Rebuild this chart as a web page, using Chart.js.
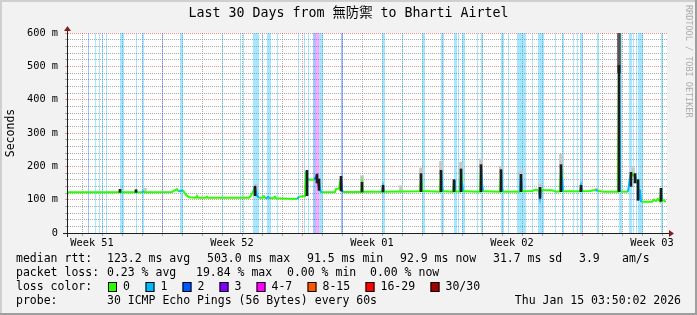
<!DOCTYPE html>
<html>
<head>
<meta charset="utf-8">
<script src="https://cdn.jsdelivr.net/npm/chart.js@4"></script>
<style>
  html, body { margin: 0; padding: 0; background: #f2f2f2; }
  canvas { display: block; }
</style>
</head>
<body>
<canvas id="graph" width="697" height="315"></canvas>
<script>
// x values are days since the start of the 30 day window, y values are ms
const titleText = "Last 30 Days from 無防禦 to Bharti Airtel";
const yAxisTitle = "Seconds";
const watermark = "RRDTOOL / TOBI OETIKER";

const weekLabels = ["Week 51", "Week 52", "Week 01", "Week 02", "Week 03"];
const weekLabelDays = [1.25, 8.25, 15.25, 22.25, 29.25];
const weekStartDays = [4.75, 11.75, 18.75, 25.75];

const medianDays = [0.00, 0.05, 2.60, 2.65, 2.70, 3.40, 3.45, 3.50, 3.75, 3.80, 3.85, 5.25, 5.35, 5.50, 5.60, 5.70, 5.80, 5.90, 6.00, 6.10,
  6.45, 6.50, 6.55, 6.95, 7.00, 7.05, 9.10, 9.20, 9.35, 9.40, 9.45, 9.50, 9.60, 9.80, 9.85, 9.95, 10.05, 10.15, 10.30, 10.40,
  10.45, 11.50, 11.60, 11.90, 11.95, 12.00, 12.10, 12.40, 12.45, 12.50, 12.55, 12.60, 12.65, 12.70, 12.75, 13.40, 13.45, 13.60, 13.70, 13.75,
  13.80, 14.70, 14.75, 14.80, 15.75, 15.80, 15.85, 17.65, 17.70, 17.75, 18.65, 18.70, 18.75, 18.80, 19.30, 19.35, 19.40, 19.65, 19.70, 19.75,
  19.80, 20.65, 20.70, 20.75, 20.80, 21.65, 21.70, 21.75, 21.80, 22.65, 22.70, 22.75, 23.25, 23.45, 23.60, 23.65, 23.70, 23.90, 24.25, 24.45,
  24.65, 24.70, 24.75, 24.80, 25.65, 25.70, 25.75, 26.15, 26.45, 26.55, 26.85, 27.55, 27.60, 27.65, 27.70, 28.05, 28.15, 28.20, 28.30, 28.40,
  28.50, 28.55, 28.60, 28.65, 28.70, 28.75, 29.25, 29.35, 29.45, 29.55, 29.65, 29.70, 29.75, 29.85, 29.95];
const medianMs = [114, 122, 122, 129, 122, 122, 128, 122, 122, 125, 122, 123, 127, 131, 124, 127, 128, 118, 112, 107,
  106, 111, 106, 106, 109, 106, 106, 112, 130, 137, 128, 112, 106, 106, 110, 103, 108, 104, 104, 109,
  104, 102, 109, 111, 185, 163, 160, 160, 170, 174, 150, 158, 128, 124, 122, 123, 132, 133, 165, 128,
  123, 123, 148, 124, 124, 140, 124, 125, 172, 126, 124, 186, 140, 125, 124, 158, 125, 124, 188, 150,
  125, 124, 202, 150, 125, 124, 188, 135, 124, 124, 172, 125, 126, 130, 126, 106, 130, 128, 128, 124,
  125, 200, 165, 125, 125, 142, 125, 126, 130, 126, 124, 124, 503, 130, 124, 124, 165, 178, 172, 178,
  150, 160, 100, 130, 95, 94, 94, 100, 96, 102, 95, 132, 100, 97, 93];

// dense smoke (dark) and sparse smoke (grey): ping spread around the spikes
const darkSmokeDays = [2.65, 3.45, 9.40, 12.00, 12.50, 12.60, 13.70, 14.75, 15.80, 17.70, 18.70, 19.35, 19.70, 20.70, 21.70, 22.70, 23.65, 24.70, 25.70, 27.60, 28.20, 28.40, 28.55, 29.70];
const darkSmokeLow  = [122, 122, 112, 112, 150, 128, 126, 123, 123, 124, 124, 124, 124, 124, 124, 124, 104, 124, 124, 124, 140, 150, 98, 95];
const darkSmokeHigh = [131, 130, 140, 188, 176, 162, 170, 152, 143, 178, 188, 160, 192, 205, 190, 176, 137, 205, 143, 503, 182, 178, 160, 134];

const greySmokeDays = [3.90, 9.45, 14.75, 16.70, 17.70, 18.70, 19.70, 20.70, 21.70, 22.70, 23.65, 24.70, 26.50, 27.60, 28.30];
const greySmokeLow  = [122, 125, 140, 122, 165, 175, 180, 195, 180, 165, 130, 195, 124, 480, 175];
const greySmokeHigh = [134, 146, 172, 142, 195, 215, 212, 222, 200, 186, 146, 236, 134, 600, 196];

// periods with packet loss (start day, end day, lost pings)
const lossStart = [1.05, 1.40, 1.60, 1.75, 1.95, 2.65, 3.45, 3.75, 4.75, 5.65, 7.75, 8.65, 8.80, 8.90, 9.30, 9.75, 10.00, 10.50, 11.55, 11.85,
  12.05, 12.30, 12.45, 12.60, 13.70, 15.75, 16.75, 17.75, 18.70, 19.35, 19.55, 19.75, 20.50, 20.60, 20.70, 21.70, 22.05, 22.50, 23.25, 23.55,
  24.40, 24.75, 25.30, 25.50, 25.65, 26.50, 27.60, 28.10, 28.30, 28.45, 28.55, 29.70];
const lossEnd = [1.10, 1.45, 1.65, 1.80, 2.00, 2.85, 3.50, 3.85, 4.80, 5.80, 7.80, 8.70, 8.85, 8.95, 9.60, 9.80, 10.20, 10.55, 11.60, 11.90,
  12.10, 12.45, 12.60, 12.80, 13.80, 15.90, 16.80, 17.90, 18.85, 19.50, 19.60, 19.90, 20.55, 20.65, 20.80, 21.85, 22.10, 22.95, 23.30, 23.85,
  24.45, 24.85, 25.35, 25.55, 25.80, 26.60, 27.75, 28.25, 28.35, 28.50, 28.80, 29.80];
const lossCount = [2, 1, 1, 1, 1, 1, 1, 1, 2, 1, 1, 1, 1, 1, 1, 1, 1, 1, 1, 1,
  1, 2, 5, 1, 2, 1, 1, 1, 1, 1, 1, 1, 1, 1, 1, 1, 1, 1, 1, 1,
  1, 1, 1, 1, 1, 1, 1, 1, 1, 1, 1, 1];

const lossLabels = ["0", "1", "2", "3", "4-7", "8-15", "16-29", "30/30"];
const lossColors = ["#26ff00", "#00b8ff", "#0059ff", "#7e00ff", "#ff00ff", "#ff5500", "#ff0000", "#a10000"];

const rttStats = ["123.2 ms avg", "503.0 ms max", "91.5 ms min", "92.9 ms now", "31.7 ms sd", "3.9", "am/s"];
const lossStats = ["0.23 % avg", "19.84 % max", "0.00 % min", "0.00 % now"];
const probeText = "30 ICMP Echo Pings (56 Bytes) every 60s";
const stampText = "Thu Jan 15 03:50:02 2026";

const MONO = "'DejaVu Sans Mono', 'Noto Sans CJK TC', monospace";

const bucketOf = (n) => (n <= 3 ? n : n <= 7 ? 4 : n <= 15 ? 5 : n <= 29 ? 6 : 7);

const lossAt = (d) => {
  for (let i = 0; i < lossStart.length; i++) {
    if (d >= lossStart[i] && d < lossEnd[i]) return lossCount[i];
  }
  return 0;
};

const lighten = (hex, a) => {
  const v = parseInt(hex.slice(1), 16);
  return `rgba(${(v >> 16) & 255}, ${(v >> 8) & 255}, ${v & 255}, ${a})`;
};

//One filled step area per loss colour, behind everything else
const stripeSets = [];
for (let b = 1; b < lossColors.length; b++) {
  const pts = [];
  lossStart.forEach((s, i) => {
    if (bucketOf(lossCount[i]) !== b) return;
    pts.push({ x: s, y: 0 }, { x: s, y: 600 }, { x: lossEnd[i], y: 600 }, { x: lossEnd[i], y: 0 });
  });
  if (!pts.length) continue;
  stripeSets.push({
    type: "line",
    data: pts,
    fill: "origin",
    backgroundColor: lighten(lossColors[b], 0.35),
    borderColor: "transparent",
    borderWidth: 0,
    pointRadius: 0,
    order: 10,
  });
}

const paintBackground = {
  id: "paintBackground",
  beforeDraw(chart) {
    const { ctx, width, height, chartArea: a } = chart;
    ctx.save();
    ctx.fillStyle = "#f2f2f2";
    ctx.fillRect(0, 0, width, height);
    ctx.fillStyle = "#cfcfcf";
    ctx.fillRect(0, 0, width, 2);
    ctx.fillRect(0, 0, 2, height);
    ctx.fillStyle = "#9e9e9e";
    ctx.fillRect(width - 2, 0, 2, height);
    ctx.fillRect(0, height - 2, width, 2);
    ctx.fillStyle = "#ffffff";
    ctx.fillRect(a.left, a.top, a.right - a.left, a.bottom - a.top);
    ctx.restore();
  },
};

const rrdDecor = {
  id: "rrdDecor",
  afterDraw(chart) {
    const { ctx, width, chartArea: a } = chart;
    ctx.save();
    //axis lines run a bit past the canvas, then the arrows
    ctx.strokeStyle = "#1f1f1f";
    ctx.lineWidth = 1;
    ctx.beginPath();
    ctx.moveTo(a.left - 4, a.bottom + 0.5);
    ctx.lineTo(a.right + 4, a.bottom + 0.5);
    ctx.moveTo(a.left + 0.5, a.bottom + 4);
    ctx.lineTo(a.left + 0.5, a.top - 4);
    ctx.stroke();
    ctx.fillStyle = "#801f1f";
    ctx.beginPath();
    ctx.moveTo(a.right + 2, a.bottom - 3);
    ctx.lineTo(a.right + 2, a.bottom + 4);
    ctx.lineTo(a.right + 7, a.bottom + 0.5);
    ctx.closePath();
    ctx.fill();
    ctx.beginPath();
    ctx.moveTo(a.left - 3, a.top - 2);
    ctx.lineTo(a.left + 4, a.top - 2);
    ctx.lineTo(a.left + 0.5, a.top - 7);
    ctx.closePath();
    ctx.fill();

    ctx.fillStyle = "#000";
    ctx.textBaseline = "middle";
    ctx.textAlign = "center";
    ctx.font = `13.3px ${MONO}`;
    ctx.fillText(titleText, width / 2, 14);

    ctx.save();
    ctx.translate(688, 5);
    ctx.rotate(Math.PI / 2);
    ctx.font = `8.5px ${MONO}`;
    ctx.fillStyle = "#ababab";
    ctx.textAlign = "left";
    ctx.fillText(watermark, 0, 0);
    ctx.restore();

    // legend block under the graph
    ctx.font = `11.5px ${MONO}`;
    ctx.textAlign = "left";
    ctx.fillStyle = "#000";
    const rows = [259, 273, 287, 301];
    ctx.fillText("median rtt:", 16, rows[0]);
    [107, 207, 307, 400, 493, 579, 622].forEach((x, i) => ctx.fillText(rttStats[i], x, rows[0]));
    ctx.fillText("packet loss:", 16, rows[1]);
    [107, 196, 287, 370].forEach((x, i) => ctx.fillText(lossStats[i], x, rows[1]));
    ctx.fillText("loss color:", 16, rows[2]);
    const boxX = [108, 145.5, 182.5, 219.5, 256.5, 307.5, 365.5, 430.5];
    boxX.forEach((x, i) => {
      ctx.fillStyle = lossColors[i];
      ctx.fillRect(x, rows[2] - 5, 9, 10);
      ctx.strokeStyle = "#000";
      ctx.strokeRect(x + 0.5, rows[2] - 4.5, 8, 9);
      ctx.fillStyle = "#000";
      ctx.fillText(lossLabels[i], x + 15, rows[2]);
    });
    ctx.fillText("probe:", 16, rows[3]);
    ctx.fillText(probeText, 107, rows[3]);
    ctx.textAlign = "right";
    ctx.fillText(stampText, 681, rows[3]);
    ctx.restore();
  },
};

Chart.defaults.font.family = MONO;
Chart.defaults.color = "#000";

new Chart(document.getElementById("graph"), {
  type: "line",
  data: {
    datasets: [
      ...stripeSets,
      {
        type: "bar",
        data: greySmokeDays.map((d, i) => ({ x: d, y: [greySmokeLow[i], greySmokeHigh[i]] })),
        backgroundColor: (c) => (c.raw && c.raw.y[0] > 400 ? "#555555" : "#c8c8c8"),
        barThickness: 3,
        grouped: false,
        order: 8,
      },
      {
        type: "line",
        data: medianDays.map((d, i) => ({ x: d, y: medianMs[i] })),
        borderColor: lossColors[0],
        borderWidth: 2,
        pointRadius: 0,
        tension: 0,
        fill: false,
        segment: {
          //long flat stretches are loss free, short steps take the loss of their slot
          borderColor: (c) => {
            const span = c.p1.parsed.x - c.p0.parsed.x;
            const n = span <= 0.15 ? lossAt((c.p0.parsed.x + c.p1.parsed.x) / 2) : 0;
            return lossColors[bucketOf(n)];
          },
        },
        order: 6,
      },
      {
        type: "bar",
        data: darkSmokeDays.map((d, i) => ({ x: d, y: [darkSmokeLow[i], darkSmokeHigh[i]] })),
        backgroundColor: "#1c1c1c",
        barThickness: 2,
        grouped: false,
        order: 4,
      },
    ],
  },
  options: {
    responsive: false,
    animation: false,
    events: [],
    layout: { padding: { left: 0, top: 33, right: 30, bottom: 0 } },
    plugins: {
      legend: { display: false },
      title: { display: false },
      tooltip: { enabled: false },
    },
    scales: {
      x: {
        type: "linear",
        min: 0,
        max: 30,
        offset: false,
        afterFit: (scale) => { scale.height = 82; },
        afterBuildTicks: (scale) => {
          const ticks = [];
          for (let d = 0.75; d < 30; d += 1) ticks.push({ value: d });
          weekLabelDays.forEach((d) => ticks.push({ value: d }));
          scale.ticks = ticks.sort((p, q) => p.value - q.value);
        },
        grid: {
          offset: false,
          tickLength: 3,
          color: (c) => {
            const v = c.tick && c.tick.value;
            if (weekLabelDays.includes(v)) return "transparent";
            if (weekStartDays.some((w) => Math.abs(w - v) < 1e-6)) return "rgba(222, 79, 79, 0.6)";
            return "rgba(143, 143, 143, 0.75)";
          },
        },
        border: { display: true, color: "#1f1f1f", dash: [1, 1] },
        ticks: {
          autoSkip: false,
          maxRotation: 0,
          minRotation: 0,
          padding: 1,
          font: { size: 10.3 },
          callback: (v) => {
            const i = weekLabelDays.indexOf(v);
            return i >= 0 ? weekLabels[i] : "";
          },
        },
      },
      y: {
        min: 0,
        max: 600,
        afterFit: (scale) => { scale.width = 67; },
        grid: {
          tickLength: 2,
          color: (c) => (c.tick && c.tick.value % 100 === 0 ? "rgba(222, 79, 79, 0.6)" : "rgba(143, 143, 143, 0.75)"),
        },
        border: { display: true, color: "#1f1f1f", dash: [1, 1] },
        title: {
          display: true,
          text: yAxisTitle,
          font: { size: 11.5 },
          padding: { top: 4, bottom: 0 },
        },
        ticks: {
          stepSize: 20,
          maxTicksLimit: 40,
          autoSkip: false,
          padding: 7,
          font: { size: 10.3 },
          callback: (v) => (v % 100 !== 0 ? "" : v === 0 ? "0" : `${v} m`),
        },
      },
    },
  },
  plugins: [paintBackground, rrdDecor],
});
</script>
</body>
</html>
